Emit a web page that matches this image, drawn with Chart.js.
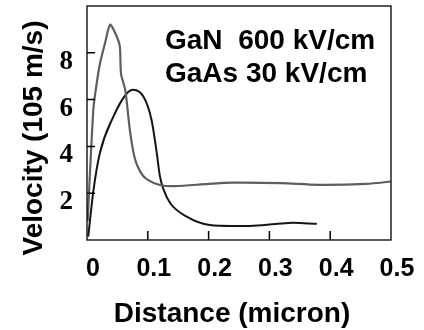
<!DOCTYPE html>
<html>
<head>
<meta charset="utf-8">
<script src="https://cdn.jsdelivr.net/npm/chart.js@4/dist/chart.umd.min.js"></script>
<style>
    html, body { margin: 0; padding: 0; background: #fff; }
    #wrap { width: 424px; height: 330px; }
</style>
</head>
<body>
<div id="wrap"><canvas id="velocityChart" width="424" height="330"></canvas></div>
<script>
// Data
const xTicks = [0, 0.1, 0.2, 0.3, 0.4, 0.5];
const yTicks = [2, 4, 6, 8];

// GaN, 600 kV/cm (gray curve)
const ganX = [0.001, 0.0105, 0.016, 0.021, 0.030, 0.038, 0.048, 0.054, 0.056, 0.063, 0.071, 0.079, 0.088, 0.098, 0.12, 0.145, 0.2, 0.24, 0.32, 0.38, 0.46, 0.5];
const ganY = [0.8, 5.6, 6.7, 7.5, 8.45, 9.2, 8.75, 8.27, 7.1, 6.4, 4.6, 3.45, 2.9, 2.6, 2.35, 2.3, 2.4, 2.45, 2.43, 2.36, 2.4, 2.5];

// GaAs, 30 kV/cm (black curve)
const gaasX = [0.002, 0.0105, 0.021, 0.043, 0.065, 0.076, 0.093, 0.106, 0.114, 0.12, 0.126, 0.137, 0.164, 0.202, 0.24, 0.268, 0.31, 0.339, 0.378];
const gaasY = [0.14, 2.1, 3.7, 5.25, 6.25, 6.42, 6.12, 5.15, 3.86, 2.72, 2.15, 1.57, 1.0, 0.64, 0.6, 0.6, 0.68, 0.74, 0.69];

const annotations = ['GaN  600 kV/cm', 'GaAs 30 kV/cm'];
const xTitle = 'Distance (micron)';
const yTitle = 'Velocity (105 m/s)';

const toPoints = (xs, ys) => xs.map((x, i) => ({ x: x, y: ys[i] }));

// frame, inward tick marks and text drawn on top of the chart
const framePlugin = {
    id: 'frame',
    afterDraw(chart) {
        const { ctx, chartArea: a, scales } = chart;
        ctx.save();
        ctx.strokeStyle = '#000';
        ctx.lineWidth = 1.3;
        ctx.strokeRect(a.left, a.top, a.right - a.left, a.bottom - a.top);

        ctx.lineWidth = 1.5;
        ctx.beginPath();
        xTicks.slice(1, -1).forEach(v => {
            const px = scales.x.getPixelForValue(v);
            ctx.moveTo(px, a.bottom);
            ctx.lineTo(px, a.bottom - 9);
        });
        yTicks.forEach(v => {
            const py = scales.y.getPixelForValue(v);
            ctx.moveTo(a.left, py);
            ctx.lineTo(a.left + 8, py);
        });
        ctx.stroke();

        ctx.fillStyle = '#000';
        ctx.font = 'bold 28px "Liberation Sans", Arial, sans-serif';
        ctx.textAlign = 'left';
        ctx.textBaseline = 'alphabetic';
        ctx.fillText(annotations[0], 165, 49);
        ctx.fillText(annotations[1], 165, 82);

        ctx.textAlign = 'center';
        ctx.fillText(xTitle, 232, 322);

        ctx.translate(42, 138);
        ctx.rotate(-Math.PI / 2);
        ctx.fillText(yTitle, 0, 0);
        ctx.restore();
    }
};

document.addEventListener('DOMContentLoaded', () => {
    const ctx = document.getElementById('velocityChart').getContext('2d');

    new Chart(ctx, {
        type: 'line',
        data: {
            datasets: [
                {
                    label: 'GaN 600 kV/cm',
                    data: toPoints(ganX, ganY),
                    borderColor: '#5e5e5e',
                    borderWidth: 2.2,
                    pointRadius: 0,
                    tension: 0.25
                },
                {
                    label: 'GaAs 30 kV/cm',
                    data: toPoints(gaasX, gaasY),
                    borderColor: '#151515',
                    borderWidth: 2,
                    pointRadius: 0,
                    cubicInterpolationMode: 'monotone'
                }
            ]
        },
        options: {
            responsive: false,
            animation: false,
            layout: { padding: { top: 6, right: 33, left: 0, bottom: 0 } },
            plugins: {
                legend: { display: false },
                tooltip: { enabled: false }
            },
            scales: {
                x: {
                    type: 'linear',
                    min: 0,
                    max: 0.5,
                    afterBuildTicks: s => { s.ticks = xTicks.map(v => ({ value: v })); },
                    afterFit: s => { s.height = 90; s.paddingLeft = 0; s.paddingRight = 0; },
                    grid: { display: false, drawTicks: false },
                    border: { display: false },
                    ticks: {
                        color: '#000',
                        padding: 14,
                        labelOffset: 6,
                        maxRotation: 0,
                        font: { family: '"Liberation Sans", Arial, sans-serif', size: 25, weight: 'bold' },
                        callback: v => String(v)
                    }
                },
                y: {
                    type: 'linear',
                    min: 0,
                    max: 10,
                    afterBuildTicks: s => { s.ticks = yTicks.map(v => ({ value: v })); },
                    afterFit: s => { s.width = 87; s.paddingTop = 0; s.paddingBottom = 0; },
                    grid: { display: false, drawTicks: false },
                    border: { display: false },
                    ticks: {
                        color: '#000',
                        padding: 14,
                        labelOffset: 9,
                        font: { family: '"Liberation Serif", "Times New Roman", serif', size: 27, weight: 'bold' }
                    }
                }
            }
        },
        plugins: [framePlugin]
    });
});
</script>
</body>
</html>
